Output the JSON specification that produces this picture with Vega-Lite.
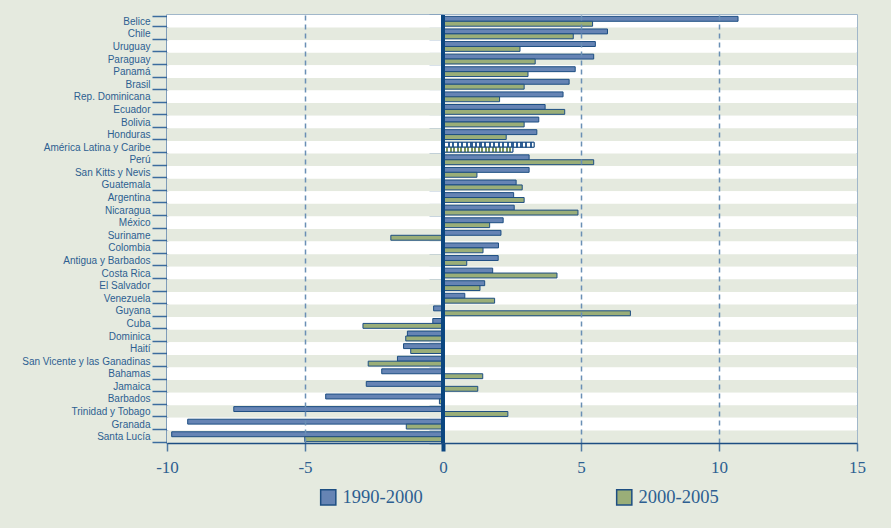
{
  "$schema": "https://vega.github.io/schema/vega-lite/v6.json",
  "width": 690,
  "height": 428,
  "autosize": {"type": "none"},
  "padding": {"left": 167, "top": 15, "right": 34, "bottom": 85},
  "background": "#e5eadf",
  "config": {
    "view": {"fill": "#ffffff", "stroke": "#8aa6c4", "strokeWidth": 1.5},
    "font": "Liberation Sans"
  },
  "data": {
    "values": [
      {"country": "Belice", "period": "1990-2000", "value": 10.69},
      {"country": "Belice", "period": "2000-2005", "value": 5.42},
      {"country": "Chile", "period": "1990-2000", "value": 5.96},
      {"country": "Chile", "period": "2000-2005", "value": 4.72},
      {"country": "Uruguay", "period": "1990-2000", "value": 5.52},
      {"country": "Uruguay", "period": "2000-2005", "value": 2.79},
      {"country": "Paraguay", "period": "1990-2000", "value": 5.46},
      {"country": "Paraguay", "period": "2000-2005", "value": 3.34},
      {"country": "Panamá", "period": "1990-2000", "value": 4.79},
      {"country": "Panamá", "period": "2000-2005", "value": 3.08},
      {"country": "Brasil", "period": "1990-2000", "value": 4.57},
      {"country": "Brasil", "period": "2000-2005", "value": 2.94},
      {"country": "Rep. Dominicana", "period": "1990-2000", "value": 4.35},
      {"country": "Rep. Dominicana", "period": "2000-2005", "value": 2.05},
      {"country": "Ecuador", "period": "1990-2000", "value": 3.70},
      {"country": "Ecuador", "period": "2000-2005", "value": 4.41},
      {"country": "Bolivia", "period": "1990-2000", "value": 3.47},
      {"country": "Bolivia", "period": "2000-2005", "value": 2.94},
      {"country": "Honduras", "period": "1990-2000", "value": 3.40},
      {"country": "Honduras", "period": "2000-2005", "value": 2.29},
      {"country": "América Latina y Caribe", "period": "1990-2000", "value": 3.30},
      {"country": "América Latina y Caribe", "period": "2000-2005", "value": 2.53},
      {"country": "Perú", "period": "1990-2000", "value": 3.12},
      {"country": "Perú", "period": "2000-2005", "value": 5.46},
      {"country": "San Kitts y Nevis", "period": "1990-2000", "value": 3.12},
      {"country": "San Kitts y Nevis", "period": "2000-2005", "value": 1.23},
      {"country": "Guatemala", "period": "1990-2000", "value": 2.65},
      {"country": "Guatemala", "period": "2000-2005", "value": 2.87},
      {"country": "Argentina", "period": "1990-2000", "value": 2.56},
      {"country": "Argentina", "period": "2000-2005", "value": 2.94},
      {"country": "Nicaragua", "period": "1990-2000", "value": 2.58},
      {"country": "Nicaragua", "period": "2000-2005", "value": 4.89},
      {"country": "México", "period": "1990-2000", "value": 2.18},
      {"country": "México", "period": "2000-2005", "value": 1.69},
      {"country": "Suriname", "period": "1990-2000", "value": 2.10},
      {"country": "Suriname", "period": "2000-2005", "value": -1.89},
      {"country": "Colombia", "period": "1990-2000", "value": 2.01},
      {"country": "Colombia", "period": "2000-2005", "value": 1.45},
      {"country": "Antigua y Barbados", "period": "1990-2000", "value": 2.00},
      {"country": "Antigua y Barbados", "period": "2000-2005", "value": 0.86},
      {"country": "Costa Rica", "period": "1990-2000", "value": 1.80},
      {"country": "Costa Rica", "period": "2000-2005", "value": 4.13},
      {"country": "El Salvador", "period": "1990-2000", "value": 1.51},
      {"country": "El Salvador", "period": "2000-2005", "value": 1.34},
      {"country": "Venezuela", "period": "1990-2000", "value": 0.79},
      {"country": "Venezuela", "period": "2000-2005", "value": 1.87},
      {"country": "Guyana", "period": "1990-2000", "value": -0.34},
      {"country": "Guyana", "period": "2000-2005", "value": 6.79},
      {"country": "Cuba", "period": "1990-2000", "value": -0.37},
      {"country": "Cuba", "period": "2000-2005", "value": -2.90},
      {"country": "Dominica", "period": "1990-2000", "value": -1.29},
      {"country": "Dominica", "period": "2000-2005", "value": -1.35},
      {"country": "Haití", "period": "1990-2000", "value": -1.43},
      {"country": "Haití", "period": "2000-2005", "value": -1.17},
      {"country": "San Vicente y las Ganadinas", "period": "1990-2000", "value": -1.65},
      {"country": "San Vicente y las Ganadinas", "period": "2000-2005", "value": -2.71},
      {"country": "Bahamas", "period": "1990-2000", "value": -2.22},
      {"country": "Bahamas", "period": "2000-2005", "value": 1.44},
      {"country": "Jamaica", "period": "1990-2000", "value": -2.78},
      {"country": "Jamaica", "period": "2000-2005", "value": 1.26},
      {"country": "Barbados", "period": "1990-2000", "value": -4.25},
      {"country": "Barbados", "period": "2000-2005", "value": -0.13},
      {"country": "Trinidad y Tobago", "period": "1990-2000", "value": -7.58},
      {"country": "Trinidad y Tobago", "period": "2000-2005", "value": 2.35},
      {"country": "Granada", "period": "1990-2000", "value": -9.25},
      {"country": "Granada", "period": "2000-2005", "value": -1.33},
      {"country": "Santa Lucía", "period": "1990-2000", "value": -9.83},
      {"country": "Santa Lucía", "period": "2000-2005", "value": -5.01}
    ]
  },
  "layer": [
    {
      "transform": [
        {"filter": "datum.period === '1990-2000'"},
        {"window": [{"op": "row_number", "as": "rn"}]}
      ],
      "mark": {"type": "bar"},
      "encoding": {
        "y": {
          "field": "country", "type": "nominal", "sort": null,
          "scale": {"paddingInner": 0, "paddingOuter": 0},
          "axis": {
            "orient": "left", "offset": -276, "labels": false, "domain": false,
            "tickBand": "extent", "tickSize": 14, "tickWidth": 1.5,
            "tickColor": "#3c6c9e", "title": null, "grid": false
          }
        },
        "x": {"datum": -10, "type": "quantitative"},
        "x2": {"datum": 15},
        "fill": {
          "condition": {"test": "datum.rn % 2 === 0", "value": "#e5eadf"},
          "value": "#ffffff"
        }
      }
    },
    {
      "encoding": {
        "y": {
          "field": "country", "type": "nominal", "sort": null,
          "scale": {"paddingInner": 0.22, "paddingOuter": 0.11},
          "axis": {
            "orient": "left", "title": null, "grid": false,
            "labelFont": "Liberation Sans", "labelFontSize": 10, "labelColor": "#2d5f91",
            "labelPadding": 2, "labelLimit": 250,
            "tickBand": "extent", "tickSize": 15, "tickWidth": 1.5, "tickColor": "#3c6c9e",
            "domainColor": "#1d4e82", "domainWidth": 1.5
          }
        },
        "yOffset": {
          "field": "period", "type": "nominal", "sort": ["1990-2000", "2000-2005"],
          "scale": {"paddingInner": 0, "paddingOuter": 0}
        },
        "x": {
          "field": "value", "type": "quantitative",
          "scale": {"domain": [-10, 15], "nice": false, "zero": false},
          "axis": {
            "values": [-10, -5, 0, 5, 10, 15],
            "labelExpr": "'' + datum.value",
            "labelFlush": false,
            "title": null, "zindex": 1,
            "labelFont": "Liberation Serif", "labelFontSize": 17, "labelColor": "#2d5f91",
            "labelPadding": 8, "tickSize": 8,
            "tickColor": {"condition": {"test": "datum.value === 0", "value": "#0b4680"}, "value": "#4f79a3"},
            "tickWidth": {"condition": {"test": "datum.value === 0", "value": 4}, "value": 1.5},
            "domainColor": "#1d4e82", "domainWidth": 1.5,
            "grid": true, "gridDash": [5, 4], "gridColor": "#6a8fb5", "gridWidth": 1.5,
            "gridOpacity": {"condition": {"test": "datum.value === 0 || datum.value === -10 || datum.value === 15", "value": 0}, "value": 1}
          }
        }
      },
      "layer": [
        {
          "mark": {"type": "bar", "stroke": "#1d4e82", "strokeWidth": 1},
          "encoding": {
            "color": {
              "field": "period", "type": "nominal",
              "scale": {"domain": ["1990-2000", "2000-2005"], "range": ["#6684b4", "#9aae78"]},
              "legend": {
                "title": null, "orient": "none", "legendX": 152, "legendY": 473,
                "direction": "horizontal", "columnPadding": 190,
                "symbolType": "square", "symbolSize": 230,
                "symbolStrokeColor": "#1d4e82", "symbolStrokeWidth": 1.5,
                "labelFont": "Liberation Serif", "labelFontSize": 18.5, "labelColor": "#2d5f91",
                "labelOffset": 5
              }
            }
          }
        },
        {
          "transform": [{"filter": "datum.country === 'América Latina y Caribe'"}],
          "mark": {"type": "bar", "stroke": "#1d4e82", "strokeWidth": 1},
          "encoding": {
            "fill": {
              "condition": {
                "test": "datum.period === '1990-2000'",
                "value": {
                  "gradient": "linear", "x1": 0, "y1": 0, "x2": 1, "y2": 0,
                  "stops": [
                    {"offset": 0, "color": "#2f5f96"}, {"offset": 0.025, "color": "#2f5f96"}, {"offset": 0.025, "color": "#ffffff"}, {"offset": 0.05, "color": "#ffffff"},
                    {"offset": 0.05, "color": "#2f5f96"}, {"offset": 0.075, "color": "#2f5f96"}, {"offset": 0.075, "color": "#ffffff"}, {"offset": 0.1, "color": "#ffffff"},
                    {"offset": 0.1, "color": "#2f5f96"}, {"offset": 0.125, "color": "#2f5f96"}, {"offset": 0.125, "color": "#ffffff"}, {"offset": 0.15, "color": "#ffffff"},
                    {"offset": 0.15, "color": "#2f5f96"}, {"offset": 0.175, "color": "#2f5f96"}, {"offset": 0.175, "color": "#ffffff"}, {"offset": 0.2, "color": "#ffffff"},
                    {"offset": 0.2, "color": "#2f5f96"}, {"offset": 0.225, "color": "#2f5f96"}, {"offset": 0.225, "color": "#ffffff"}, {"offset": 0.25, "color": "#ffffff"},
                    {"offset": 0.25, "color": "#2f5f96"}, {"offset": 0.275, "color": "#2f5f96"}, {"offset": 0.275, "color": "#ffffff"}, {"offset": 0.3, "color": "#ffffff"},
                    {"offset": 0.3, "color": "#2f5f96"}, {"offset": 0.325, "color": "#2f5f96"}, {"offset": 0.325, "color": "#ffffff"}, {"offset": 0.35, "color": "#ffffff"},
                    {"offset": 0.35, "color": "#2f5f96"}, {"offset": 0.375, "color": "#2f5f96"}, {"offset": 0.375, "color": "#ffffff"}, {"offset": 0.4, "color": "#ffffff"},
                    {"offset": 0.4, "color": "#2f5f96"}, {"offset": 0.425, "color": "#2f5f96"}, {"offset": 0.425, "color": "#ffffff"}, {"offset": 0.45, "color": "#ffffff"},
                    {"offset": 0.45, "color": "#2f5f96"}, {"offset": 0.475, "color": "#2f5f96"}, {"offset": 0.475, "color": "#ffffff"}, {"offset": 0.5, "color": "#ffffff"},
                    {"offset": 0.5, "color": "#2f5f96"}, {"offset": 0.525, "color": "#2f5f96"}, {"offset": 0.525, "color": "#ffffff"}, {"offset": 0.55, "color": "#ffffff"},
                    {"offset": 0.55, "color": "#2f5f96"}, {"offset": 0.575, "color": "#2f5f96"}, {"offset": 0.575, "color": "#ffffff"}, {"offset": 0.6, "color": "#ffffff"},
                    {"offset": 0.6, "color": "#2f5f96"}, {"offset": 0.625, "color": "#2f5f96"}, {"offset": 0.625, "color": "#ffffff"}, {"offset": 0.65, "color": "#ffffff"},
                    {"offset": 0.65, "color": "#2f5f96"}, {"offset": 0.675, "color": "#2f5f96"}, {"offset": 0.675, "color": "#ffffff"}, {"offset": 0.7, "color": "#ffffff"},
                    {"offset": 0.7, "color": "#2f5f96"}, {"offset": 0.725, "color": "#2f5f96"}, {"offset": 0.725, "color": "#ffffff"}, {"offset": 0.75, "color": "#ffffff"},
                    {"offset": 0.75, "color": "#2f5f96"}, {"offset": 0.775, "color": "#2f5f96"}, {"offset": 0.775, "color": "#ffffff"}, {"offset": 0.8, "color": "#ffffff"},
                    {"offset": 0.8, "color": "#2f5f96"}, {"offset": 0.825, "color": "#2f5f96"}, {"offset": 0.825, "color": "#ffffff"}, {"offset": 0.85, "color": "#ffffff"},
                    {"offset": 0.85, "color": "#2f5f96"}, {"offset": 0.875, "color": "#2f5f96"}, {"offset": 0.875, "color": "#ffffff"}, {"offset": 0.9, "color": "#ffffff"},
                    {"offset": 0.9, "color": "#2f5f96"}, {"offset": 0.925, "color": "#2f5f96"}, {"offset": 0.925, "color": "#ffffff"}, {"offset": 0.95, "color": "#ffffff"},
                    {"offset": 0.95, "color": "#2f5f96"}, {"offset": 0.975, "color": "#2f5f96"}, {"offset": 0.975, "color": "#ffffff"}, {"offset": 1, "color": "#ffffff"}
                  ]
                }
              },
              "value": {
                "gradient": "linear", "x1": 0, "y1": 0, "x2": 1, "y2": 0,
                "stops": [
                  {"offset": 0, "color": "#7d9557"}, {"offset": 0.025, "color": "#7d9557"}, {"offset": 0.025, "color": "#ffffff"}, {"offset": 0.05, "color": "#ffffff"},
                  {"offset": 0.05, "color": "#7d9557"}, {"offset": 0.075, "color": "#7d9557"}, {"offset": 0.075, "color": "#ffffff"}, {"offset": 0.1, "color": "#ffffff"},
                  {"offset": 0.1, "color": "#7d9557"}, {"offset": 0.125, "color": "#7d9557"}, {"offset": 0.125, "color": "#ffffff"}, {"offset": 0.15, "color": "#ffffff"},
                  {"offset": 0.15, "color": "#7d9557"}, {"offset": 0.175, "color": "#7d9557"}, {"offset": 0.175, "color": "#ffffff"}, {"offset": 0.2, "color": "#ffffff"},
                  {"offset": 0.2, "color": "#7d9557"}, {"offset": 0.225, "color": "#7d9557"}, {"offset": 0.225, "color": "#ffffff"}, {"offset": 0.25, "color": "#ffffff"},
                  {"offset": 0.25, "color": "#7d9557"}, {"offset": 0.275, "color": "#7d9557"}, {"offset": 0.275, "color": "#ffffff"}, {"offset": 0.3, "color": "#ffffff"},
                  {"offset": 0.3, "color": "#7d9557"}, {"offset": 0.325, "color": "#7d9557"}, {"offset": 0.325, "color": "#ffffff"}, {"offset": 0.35, "color": "#ffffff"},
                  {"offset": 0.35, "color": "#7d9557"}, {"offset": 0.375, "color": "#7d9557"}, {"offset": 0.375, "color": "#ffffff"}, {"offset": 0.4, "color": "#ffffff"},
                  {"offset": 0.4, "color": "#7d9557"}, {"offset": 0.425, "color": "#7d9557"}, {"offset": 0.425, "color": "#ffffff"}, {"offset": 0.45, "color": "#ffffff"},
                  {"offset": 0.45, "color": "#7d9557"}, {"offset": 0.475, "color": "#7d9557"}, {"offset": 0.475, "color": "#ffffff"}, {"offset": 0.5, "color": "#ffffff"},
                  {"offset": 0.5, "color": "#7d9557"}, {"offset": 0.525, "color": "#7d9557"}, {"offset": 0.525, "color": "#ffffff"}, {"offset": 0.55, "color": "#ffffff"},
                  {"offset": 0.55, "color": "#7d9557"}, {"offset": 0.575, "color": "#7d9557"}, {"offset": 0.575, "color": "#ffffff"}, {"offset": 0.6, "color": "#ffffff"},
                  {"offset": 0.6, "color": "#7d9557"}, {"offset": 0.625, "color": "#7d9557"}, {"offset": 0.625, "color": "#ffffff"}, {"offset": 0.65, "color": "#ffffff"},
                  {"offset": 0.65, "color": "#7d9557"}, {"offset": 0.675, "color": "#7d9557"}, {"offset": 0.675, "color": "#ffffff"}, {"offset": 0.7, "color": "#ffffff"},
                  {"offset": 0.7, "color": "#7d9557"}, {"offset": 0.725, "color": "#7d9557"}, {"offset": 0.725, "color": "#ffffff"}, {"offset": 0.75, "color": "#ffffff"},
                  {"offset": 0.75, "color": "#7d9557"}, {"offset": 0.775, "color": "#7d9557"}, {"offset": 0.775, "color": "#ffffff"}, {"offset": 0.8, "color": "#ffffff"},
                  {"offset": 0.8, "color": "#7d9557"}, {"offset": 0.825, "color": "#7d9557"}, {"offset": 0.825, "color": "#ffffff"}, {"offset": 0.85, "color": "#ffffff"},
                  {"offset": 0.85, "color": "#7d9557"}, {"offset": 0.875, "color": "#7d9557"}, {"offset": 0.875, "color": "#ffffff"}, {"offset": 0.9, "color": "#ffffff"},
                  {"offset": 0.9, "color": "#7d9557"}, {"offset": 0.925, "color": "#7d9557"}, {"offset": 0.925, "color": "#ffffff"}, {"offset": 0.95, "color": "#ffffff"},
                  {"offset": 0.95, "color": "#7d9557"}, {"offset": 0.975, "color": "#7d9557"}, {"offset": 0.975, "color": "#ffffff"}, {"offset": 1, "color": "#ffffff"}
                ]
              }
            }
          }
        }
      ]
    },
    {
      "mark": {"type": "rule", "color": "#0b4680", "strokeWidth": 4},
      "encoding": {"x": {"datum": 0, "type": "quantitative"}}
    }
  ],
  "resolve": {"scale": {"y": "independent"}}
}
